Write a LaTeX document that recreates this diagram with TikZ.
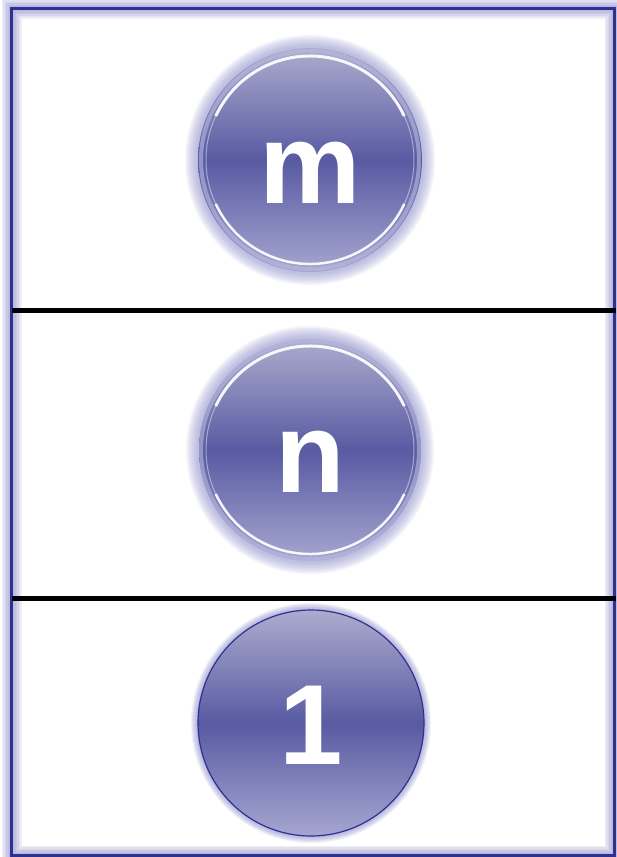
\documentclass[tikz,border=0pt]{standalone}
\usepackage{fontspec}
\setsansfont{Liberation Sans}
\usepackage{xcolor}
\definecolor{frameblue}{RGB}{46,49,146}
\definecolor{glowblue}{RGB}{140,140,205}
\definecolor{balltop}{RGB}{172,172,206}
\definecolor{ballmid}{RGB}{88,90,162}
\definecolor{ballbot}{RGB}{166,166,208}

\tikzset{
  ball/.style={circle, minimum size=#1, inner sep=0pt,
    top color=balltop, bottom color=ballbot, middle color=ballmid},
  balllabel/.style={text=white, font=\sffamily\bfseries\fontsize{114}{114}\selectfont,
    inner sep=0pt},
  divider/.style={line width=5pt, black}
}

\begin{document}
\begin{tikzpicture}[x=1pt, y=-1pt]
    \useasboundingbox (0,0) rectangle (616,857);
    \fill[white] (0,0) rectangle (616,857);

    % frame with soft glow
    \foreach \w in {20,17,...,5}
      \draw[glowblue, line width=\w pt, opacity=0.14] (11.5,8.5) rectangle (614.5,855.5);
    \draw[frameblue, line width=2.5pt] (11.5,8.5) rectangle (614.5,855.5);

    % glows behind the balls
    \foreach \c/\r in {{(310,160)}/112, {(310,450)}/111}
      \foreach \w in {26,23,...,4}
        \draw[glowblue, line width=\w pt, opacity=0.09] \c circle (\r);
    \foreach \w in {14,12,...,2}
      \draw[glowblue, line width=\w pt, opacity=0.12] (311,723) circle (113);

    % balls
    \node[ball=224pt] (mball) at (310,160) {};
    \node[ball=222pt] (nball) at (310,450) {};
    \node[ball=226pt, draw=frameblue, line width=1.2pt] (oneball) at (311,723) {};

    % white rims
    \foreach \b in {mball, nball} {
      \draw[glowblue!60, line width=4pt, opacity=0.6] (\b) circle (109);
      \draw[white, line width=3pt, opacity=0.9]
        ([shift={(-25:104)}]\b.center) arc[start angle=-25, end angle=-155, radius=104];
      \draw[white, line width=2.5pt, opacity=0.9]
        ([shift={(25:104)}]\b.center) arc[start angle=25, end angle=155, radius=104];
      \draw[white, line width=1pt, opacity=0.45] (\b) circle (104);
    }

    % labels
    \node[balllabel] (mtext) at (310,173) {m};
    \node[balllabel] (ntext) at (310,462) {n};
    \node[balllabel] (onetext) at (311,725) {1};

    % row dividers
    \draw[divider] (12,310) -- (616,310);
    \draw[divider] (12,598) -- (616,598);
\end{tikzpicture}
\end{document}
